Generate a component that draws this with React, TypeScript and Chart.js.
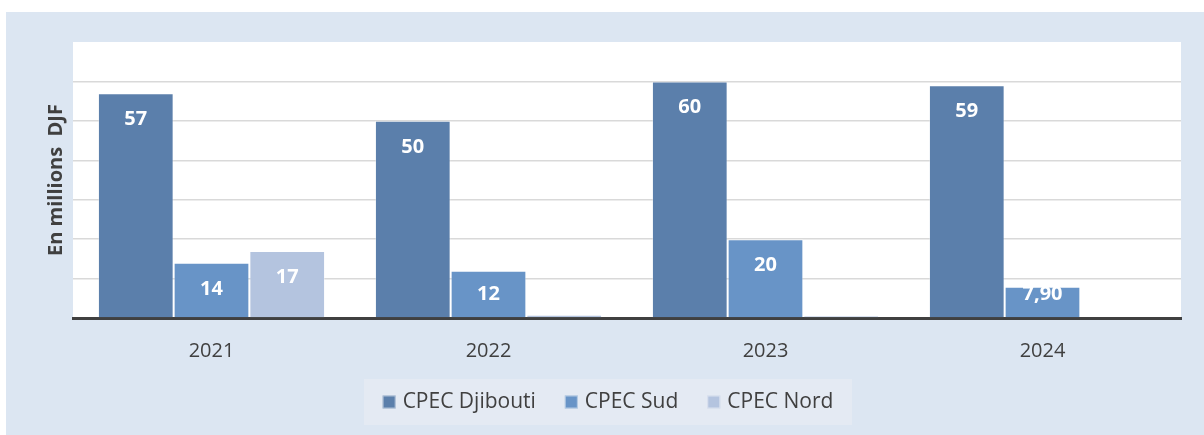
import React, { useEffect, useRef } from "react";
import { Chart, registerables } from "chart.js";

Chart.register(...registerables);

const categories = ["2021", "2022", "2023", "2024"];
const seriesNames = ["CPEC Djibouti", "CPEC Sud", "CPEC Nord"];
const djiboutiValues = [57, 50, 60, 59];
const sudValues = [14, 12, 20, 7.9];
const nordValues: (number | null)[] = [17, 0.8, 0.6, null];
const seriesColors = ["#5B7FAB", "#6894C7", "#B4C4DF"];
const yAxisTitle = "En millions  DJF";
const yMax = 70;
const yStep = 10;

const FONT = "'Open Sans', 'Noto Sans', sans-serif";
const TEXT = "#404040";

function fmt(v: number): string {
  return Number.isInteger(v) ? String(v) : v.toFixed(2).replace(".", ",");
}

const bgPlugin = {
  id: "bgPanel",
  beforeDraw(chart: any) {
    const { ctx, chartArea: a } = chart;
    ctx.save();
    ctx.fillStyle = "#ffffff";
    ctx.fillRect(0, 0, chart.width, chart.height);
    ctx.fillStyle = "#DCE6F2";
    ctx.fillRect(6, 12, chart.width - 6, chart.height - 12);
    ctx.fillStyle = "#ffffff";
    ctx.fillRect(a.left, a.top, a.right - a.left, a.bottom - a.top);
    ctx.restore();
  },
};

const labelPlugin = {
  id: "barLabels",
  afterDraw(chart: any) {
    const { ctx } = chart;
    ctx.save();
    ctx.fillStyle = "#ffffff";
    ctx.font = `bold 20px ${FONT}`;
    ctx.textAlign = "center";
    ctx.textBaseline = "middle";
    chart.data.datasets.forEach((ds: any, i: number) => {
      const meta = chart.getDatasetMeta(i);
      meta.data.forEach((bar: any, j: number) => {
        const v = ds.data[j];
        if (v == null || v < 1) return;
        const { x, y, base } = bar.getProps(["x", "y", "base"], true);
        const ty = Math.min(y + 26, base - 23);
        ctx.fillText(fmt(v), x, ty);
      });
    });
    ctx.restore();
  },
};

const legendPlugin = {
  id: "customLegend",
  afterDraw(chart: any) {
    const { ctx } = chart;
    const boxX = 364, boxY = 379, boxW = 488, boxH = 46;
    ctx.save();
    ctx.fillStyle = "#E4EAF3";
    ctx.fillRect(boxX, boxY, boxW, boxH);
    ctx.font = `21px ${FONT}`;
    ctx.textBaseline = "middle";
    ctx.textAlign = "left";
    const sq = 13, gapText = 7, gapItem = 29;
    const widths = seriesNames.map((n) => ctx.measureText(n).width);
    const total = widths.reduce((s, w) => s + sq + gapText + w, 0) + gapItem * (seriesNames.length - 1);
    let x = boxX + (boxW - total) / 2;
    const cy = boxY + boxH / 2;
    seriesNames.forEach((name, i) => {
      ctx.fillStyle = seriesColors[i];
      ctx.fillRect(x, cy - sq / 2, sq, sq);
      ctx.strokeStyle = "rgba(255,255,255,0.5)";
      ctx.lineWidth = 1;
      ctx.strokeRect(x + 0.5, cy - sq / 2 + 0.5, sq - 1, sq - 1);
      ctx.fillStyle = TEXT;
      ctx.fillText(name, x + sq + gapText, cy);
      x += sq + gapText + widths[i] + gapItem;
    });
    ctx.restore();
  },
};

export default function App() {
  const ref = useRef<HTMLCanvasElement | null>(null);

  useEffect(() => {
    document.body.style.margin = "0";
    const canvas = ref.current;
    if (!canvas) return;
    const allValues = [djiboutiValues, sudValues, nordValues];
    const chart = new Chart(canvas, {
      type: "bar",
      data: {
        labels: categories,
        datasets: seriesNames.map((name, i) => ({
          label: name,
          data: allValues[i],
          backgroundColor: seriesColors[i],
          borderColor: "rgba(255,255,255,0.35)",
          borderWidth: 1,
          categoryPercentage: 0.82,
          barPercentage: 1,
        })),
      },
      options: {
        responsive: false,
        animation: false,
        devicePixelRatio: 1,
        layout: { padding: { left: 40, right: 23, top: 42, bottom: 51 } },
        plugins: { legend: { display: false }, tooltip: { enabled: false }, title: { display: false } },
        scales: {
          x: {
            z: 1,
            grid: { display: false, drawTicks: false },
            border: { display: true, color: "#404040", width: 3 },
            ticks: { color: TEXT, font: { family: FONT, size: 20 }, padding: 21 },
          },
          y: {
            z: 1,
            min: 0,
            max: yMax,
            ticks: { display: false, stepSize: yStep },
            grid: {
              drawTicks: false,
              lineWidth: 1.5,
              color: (c: any) =>
                c.tick && (c.tick.value === 0 || c.tick.value === yMax) ? "rgba(0,0,0,0)" : "rgba(0,0,0,0.15)",
            },
            border: { display: false },
            title: {
              display: true,
              text: yAxisTitle,
              color: TEXT,
              font: { family: FONT, size: 20, weight: "bold" },
              padding: { top: 4, bottom: 5 },
            },
          },
        },
      },
      plugins: [bgPlugin, labelPlugin, legendPlugin],
    });
    return () => chart.destroy();
  }, []);

  return (
    <div style={{ width: 1204, height: 435 }}>
      <canvas ref={ref} width={1204} height={435} style={{ display: "block" }} />
    </div>
  );
}
